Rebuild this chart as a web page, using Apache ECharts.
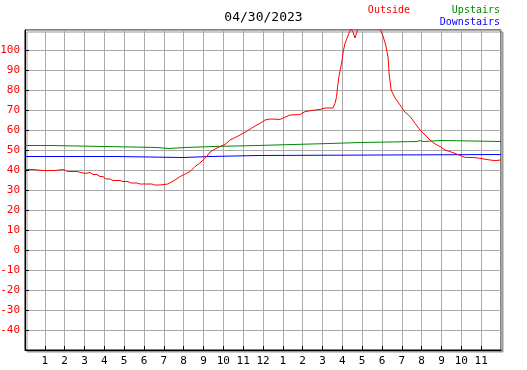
<!DOCTYPE html>
<html>
<head>
<meta charset="utf-8">
<script src="https://cdn.jsdelivr.net/npm/echarts@6/dist/echarts.min.js"></script>
<style>
  html, body { margin: 0; padding: 0; background: #fff; }
  #chart { width: 527px; height: 370px; }
</style>
</head>
<body>
<div id="chart"></div>
<script>
// hours since midnight, temperatures
const outsideHours = [0, 0.4, 0.5, 0.91, 1.01, 1.11, 1.51, 1.61, 1.92, 2.02, 2.17, 2.62, 2.72, 3.03, 3.13, 3.28,
  3.43, 3.63, 3.78, 3.93, 4.08, 4.29, 4.44, 4.79, 4.94, 5.19, 5.35, 5.65, 5.8, 6.4, 6.51, 6.81, 6.91, 7.21,
  7.31, 7.56, 7.82, 8.07, 8.32, 8.57, 8.82, 8.98, 9.18, 9.33, 9.58, 9.83, 10.09, 10.34, 10.59, 10.84,
  11.09, 11.35, 11.6, 11.85, 12.1, 12.35, 12.86, 13.01, 13.36, 13.87, 14.12, 14.62, 14.88, 15.13, 15.53,
  15.63, 15.71, 15.76, 15.83, 15.99, 16.04, 16.14, 16.24, 16.34, 16.44, 16.54, 16.64, 16.79, 17.15, 17.5,
  17.8, 17.9, 18.05, 18.2, 18.31, 18.36, 18.46, 18.66, 18.91, 19.16, 19.42, 19.67, 19.92, 20.17, 20.42,
  20.68, 20.93, 21.18, 21.43, 21.68, 22.19, 22.69, 22.94, 23.45, 23.7, 24]
const outsideTemps = [40.25, 40.25, 39.75, 39.75, 39.25, 39.75, 39.75, 40.25, 40.25, 39.75, 39.25, 39.25, 38.25, 38.25, 38.75, 38.75,
  37.75, 37.75, 36.75, 36.75, 35.5, 35.5, 34.75, 34.75, 34.25, 34.25, 33.5, 33.5, 33, 33, 32.5, 32.5, 33, 33,
  33.7, 35, 36.7, 38, 39.2, 41.7, 43.5, 45, 47, 49, 50.5, 51.7, 52.8, 55, 56.2, 57.5,
  58.8, 60.5, 62, 63.3, 65, 65.5, 65.3, 66, 67.5, 67.7, 69.2, 70, 70.3, 71, 71,
  73.3, 76.7, 81.7, 86.7, 95, 99, 103.5, 106, 108.5, 110.5, 109, 106, 111, 116, 117,
  113, 110.5, 107, 102, 96, 88, 80, 76, 72.5, 69, 66.7, 63.3, 60, 57.5, 55,
  53, 51.7, 50, 49.2, 48.3, 46.3, 46.2, 45.8, 45, 44.7, 45]

const upstairsHours = [0, 1.31, 4.03, 6.66, 7.26, 8.07, 9.48, 11.7, 13.51, 15.33, 16.94, 19.77, 19.92, 20.07, 21.03, 24]
const upstairsTemps = [52.25, 51.75, 51.25, 50.75, 51.25, 51.75, 52.25, 52.75, 53.25, 53.75, 54.25, 54.75, 54.25, 54.75, 54.25, 54.25]

const downstairsHours = [0, 4.59, 7.97, 9.33, 11.75, 24]
const downstairsTemps = [46.75, 46.25, 46.75, 47.25, 47.75, 47.75]

const titleText = '04/30/2023'

const pairs = (xs, ys) => xs.map((x, i) => [x, ys[i]])
const mono = 'DejaVu Sans Mono'

const chart = echarts.init(document.getElementById('chart'), null, { renderer: 'canvas' })
chart.setOption({
  animation: false,
  backgroundColor: '#fff',
  grid: {
    left: 25, right: 26, top: 30, bottom: 20,
    outerBoundsMode: 'none',
    containLabel: false,
    show: true,
    backgroundColor: '#fff',
    borderColor: '#000',
    borderWidth: 1,
    shadowColor: '#999',
    shadowOffsetX: 2,
    shadowOffsetY: 2,
    shadowBlur: 0
  },
  graphic: [
    { type: 'text', left: 'center', top: 11, style: { text: titleText, font: '13px ' + mono, fill: '#000' } },
    { type: 'text', right: 117, top: 5, style: { text: 'Outside', font: '10px ' + mono, fill: '#f00' } },
    { type: 'text', right: 27, top: 5, style: { text: 'Upstairs', font: '10px ' + mono, fill: '#080' } },
    { type: 'text', right: 27, top: 17, style: { text: 'Downstairs', font: '10px ' + mono, fill: '#00f' } }
  ],
  xAxis: {
    type: 'value',
    min: 0, max: 24, interval: 1,
    axisLine: { show: true, onZero: false, lineStyle: { color: '#000', width: 1 } },
    axisTick: { show: true, inside: true, length: 4, lineStyle: { color: '#000' } },
    splitLine: { show: true, lineStyle: { color: '#aaa', width: 1 } },
    axisLabel: {
      showMinLabel: false, showMaxLabel: false,
      color: '#000', fontFamily: mono, fontSize: 11, margin: 6,
      formatter: v => (v % 12 === 0 ? 12 : v % 12) + ''
    }
  },
  yAxis: {
    type: 'value',
    min: -50, max: 110, interval: 10,
    axisLine: { show: true, onZero: false, lineStyle: { color: '#000', width: 1 } },
    axisTick: { show: true, inside: true, length: 4, lineStyle: { color: '#000' } },
    splitLine: { show: true, lineStyle: { color: '#aaa', width: 1 } },
    axisLabel: {
      showMinLabel: false, showMaxLabel: false,
      color: '#f00', fontFamily: mono, fontSize: 11, margin: 5
    }
  },
  series: [
    {
      name: 'Upstairs', type: 'line', step: 'end', showSymbol: false,
      data: pairs(upstairsHours, upstairsTemps),
      lineStyle: { color: '#080', width: 1 }
    },
    {
      name: 'Downstairs', type: 'line', step: 'end', showSymbol: false,
      data: pairs(downstairsHours, downstairsTemps),
      lineStyle: { color: '#00f', width: 1 }
    },
    {
      name: 'Outside', type: 'line', showSymbol: false, clip: true,
      data: pairs(outsideHours, outsideTemps),
      lineStyle: { color: '#f00', width: 1 }
    }
  ]
})
</script>
</body>
</html>
